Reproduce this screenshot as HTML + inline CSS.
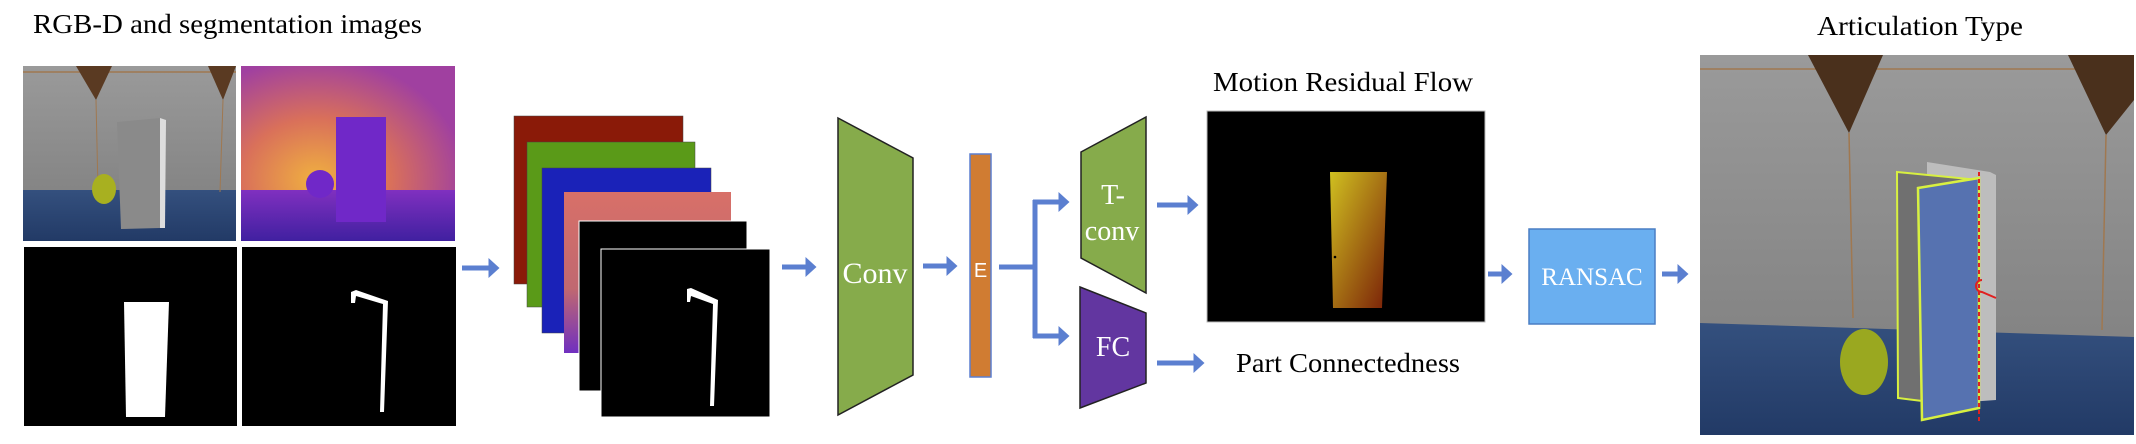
<!DOCTYPE html>
<html><head><meta charset="utf-8"><style>
html,body{margin:0;padding:0;background:#fff;}
svg{display:block;}
text{font-family:"Liberation Serif",serif;}
</style></head><body>
<svg width="2136" height="444" viewBox="0 0 2136 444" xmlns="http://www.w3.org/2000/svg">
<defs>
 <linearGradient id="wall" x1="0" y1="0" x2="0" y2="1"><stop offset="0" stop-color="#9a9a9a"/><stop offset="1" stop-color="#7c7c7c"/></linearGradient>
 <linearGradient id="floor" x1="0" y1="0" x2="0" y2="1"><stop offset="0" stop-color="#34507e"/><stop offset="1" stop-color="#223a66"/></linearGradient>
 <radialGradient id="depth" cx="0.35" cy="0.65" r="0.7"><stop offset="0" stop-color="#f0b040"/><stop offset="0.5" stop-color="#d9705a"/><stop offset="1" stop-color="#a040a0"/></radialGradient>
 <linearGradient id="depthf" x1="0" y1="0" x2="0" y2="1"><stop offset="0" stop-color="#8030c0"/><stop offset="1" stop-color="#4020a0"/></linearGradient>
 <linearGradient id="flow" x1="0" y1="0" x2="1" y2="1"><stop offset="0" stop-color="#d0c020"/><stop offset="1" stop-color="#7a2008"/></linearGradient>
 <linearGradient id="dstack" x1="0" y1="0" x2="0" y2="1"><stop offset="0" stop-color="#d87068"/><stop offset="0.6" stop-color="#c06870"/><stop offset="1" stop-color="#7030c0"/></linearGradient>
 <marker id="ah" markerWidth="4" markerHeight="4" refX="1.5" refY="2" orient="auto" markerUnits="strokeWidth"><path d="M0,0 L2.2,2 L0,4 Z" fill="#5b7fd0"/></marker>
</defs>

<text x="33" y="33" font-size="27" textLength="389" lengthAdjust="spacingAndGlyphs">RGB-D and segmentation images</text>

<rect x="23" y="66" width="213" height="175" fill="url(#wall)"/>
<rect x="23" y="190" width="213" height="51" fill="url(#floor)"/>
<line x1="23" y1="72" x2="236" y2="72" stroke="#a07850" stroke-width="1.5"/>
<path d="M76,66 L112,66 L96,100 Z" fill="#5a3a22"/>
<path d="M208,66 L236,66 L223,100 Z" fill="#5a3a22"/>
<line x1="96" y1="100" x2="98" y2="190" stroke="#a07850"/>
<line x1="223" y1="100" x2="220" y2="192" stroke="#a07850"/>
<ellipse cx="104" cy="189" rx="12" ry="15" fill="#a8b020"/>
<path d="M117,122 L160,118 L160,228 L121,229 Z" fill="#8a8a8a"/>
<path d="M160,118 L166,120 L165,228 L160,228 Z" fill="#ddd"/>

<rect x="241" y="66" width="214" height="175" fill="url(#depth)"/>
<rect x="241" y="190" width="214" height="51" fill="url(#depthf)"/>
<rect x="336" y="117" width="50" height="105" fill="#7028c8"/>
<circle cx="320" cy="184" r="14" fill="#7028c8"/>

<rect x="24" y="247" width="213" height="179" fill="#000"/>
<path d="M124,302 L169,302 L165,417 L126,417 Z" fill="#fff"/>
<rect x="242" y="247" width="214" height="179" fill="#000"/>
<path d="M351,292 L356,290 L388,301 L384,412 L380,412 L383,304 L356,296 L355,303 L351,303 Z" fill="#fff"/>

<line x1="462" y1="268" x2="496" y2="268" stroke="#5b7fd0" stroke-width="5" marker-end="url(#ah)"/>

<rect x="514" y="116" width="169" height="168" fill="#8a1a08" stroke="#444" stroke-width="0.5"/>
<rect x="527" y="142" width="168" height="165" fill="#5a9a18" stroke="#444" stroke-width="0.5"/>
<rect x="542" y="168" width="169" height="165" fill="#1a22b8" stroke="#444" stroke-width="0.5"/>
<rect x="564" y="192" width="167" height="161" fill="url(#dstack)"/>
<rect x="579" y="221" width="168" height="170" fill="#000" stroke="#fff" stroke-width="1"/>
<rect x="601" y="249" width="169" height="168" fill="#000" stroke="#fff" stroke-width="1"/>
<path d="M687,289 L691,288 L718,300 L714,406 L710,406 L713,304 L691,296 L690,302 L687,302 Z" fill="#fff"/>

<line x1="782" y1="267" x2="813" y2="267" stroke="#5b7fd0" stroke-width="5" marker-end="url(#ah)"/>

<path d="M838,118 L913,158 L913,375 L838,415 Z" fill="#86ab4b" stroke="#222" stroke-width="1.5"/>
<text x="875" y="283" font-size="30" fill="#fff" text-anchor="middle">Conv</text>

<line x1="923" y1="266" x2="954" y2="266" stroke="#5b7fd0" stroke-width="5" marker-end="url(#ah)"/>

<rect x="970" y="154" width="21" height="223" fill="#d07c32" stroke="#5b7fd0" stroke-width="1.5"/>
<text x="980.5" y="277" font-size="20" fill="#fff" text-anchor="middle" style="font-family:'Liberation Sans',sans-serif">E</text>

<line x1="999" y1="267" x2="1037" y2="267" stroke="#5b7fd0" stroke-width="5"/>
<line x1="1035" y1="200" x2="1035" y2="338" stroke="#5b7fd0" stroke-width="5"/>
<line x1="1033" y1="202" x2="1066" y2="202" stroke="#5b7fd0" stroke-width="5" marker-end="url(#ah)"/>
<line x1="1033" y1="336" x2="1066" y2="336" stroke="#5b7fd0" stroke-width="5" marker-end="url(#ah)"/>

<path d="M1081,152 L1146,117 L1146,293 L1081,258 Z" fill="#86ab4b" stroke="#222" stroke-width="1.5"/>
<text x="1113" y="204" font-size="28" fill="#fff" text-anchor="middle">T-</text>
<text x="1112" y="240" font-size="28" fill="#fff" text-anchor="middle">conv</text>

<path d="M1080,287 L1146,313 L1146,383 L1080,408 Z" fill="#6236a0" stroke="#222" stroke-width="1.5"/>
<text x="1113" y="356" font-size="28" fill="#fff" text-anchor="middle">FC</text>

<line x1="1157" y1="205" x2="1195" y2="205" stroke="#5b7fd0" stroke-width="5" marker-end="url(#ah)"/>
<line x1="1157" y1="363" x2="1201" y2="363" stroke="#5b7fd0" stroke-width="5" marker-end="url(#ah)"/>

<text x="1213" y="91" font-size="27" textLength="260" lengthAdjust="spacingAndGlyphs">Motion Residual Flow</text>
<rect x="1207" y="111" width="278" height="211" fill="#000" stroke="#bbb" stroke-width="1"/>
<path d="M1330,172 L1387,172 L1382,308 L1333,308 Z" fill="url(#flow)"/>
<circle cx="1335" cy="257" r="1.3" fill="#000"/>

<text x="1236" y="372" font-size="27" textLength="224" lengthAdjust="spacingAndGlyphs">Part Connectedness</text>

<line x1="1488" y1="274" x2="1509" y2="274" stroke="#5b7fd0" stroke-width="5" marker-end="url(#ah)"/>

<rect x="1529" y="229" width="126" height="95" fill="#6aaff0" stroke="#4a7ec4" stroke-width="1.5"/>
<text x="1592" y="285" font-size="25" fill="#fff" text-anchor="middle">RANSAC</text>

<line x1="1662" y1="274" x2="1685" y2="274" stroke="#5b7fd0" stroke-width="5" marker-end="url(#ah)"/>

<text x="1817" y="35" font-size="27" textLength="206" lengthAdjust="spacingAndGlyphs">Articulation Type</text>
<rect x="1700" y="55" width="434" height="380" fill="url(#wall)"/>
<path d="M1700,323 L2134,337 L2134,435 L1700,435 Z" fill="url(#floor)"/>
<line x1="1700" y1="69" x2="2134" y2="69" stroke="#a07850" stroke-width="1.5"/>
<path d="M1808,55 L1883,55 L1849,133 Z" fill="#4a301c"/>
<path d="M2068,55 L2134,55 L2134,100 L2106,135 Z" fill="#4a301c"/>
<line x1="1849" y1="133" x2="1853" y2="318" stroke="#a07850" stroke-width="1.5"/>
<line x1="2106" y1="135" x2="2102" y2="330" stroke="#a07850" stroke-width="1.5"/>
<ellipse cx="1864" cy="362" rx="24" ry="33" fill="#9aa820"/>
<path d="M1927,162 L1990,172 L1996,175 L1996,400 L1927,405 Z" fill="#bdbdbd"/>
<path d="M1897,172 L1979,180 L1979,408 L1898,398 Z" fill="#707070" stroke="#d8f040" stroke-width="2"/>
<path d="M1918,188 L1979,178 L1979,408 L1922,420 Z" fill="#5672b0" stroke="#d8f040" stroke-width="2.5"/>
<line x1="1979" y1="172" x2="1979" y2="422" stroke="#e02020" stroke-width="2" stroke-dasharray="4,3"/>
<path d="M1982,280 A6,6 0 0 0 1982,292 L1996,298" fill="none" stroke="#e02020" stroke-width="2"/>
</svg>
</body></html>
